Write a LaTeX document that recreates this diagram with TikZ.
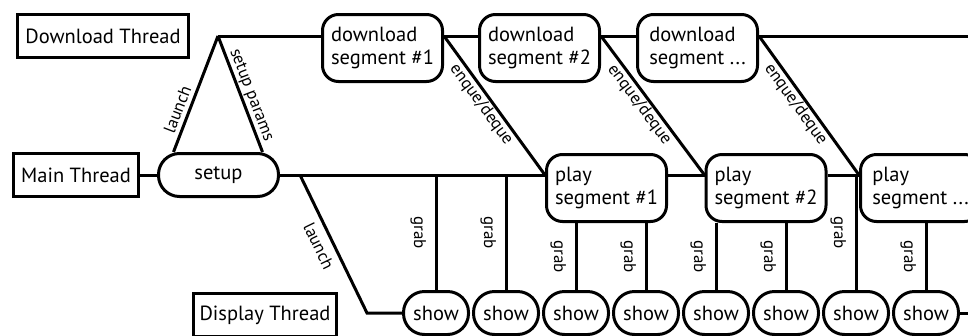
\documentclass[tikz,border=0pt]{standalone}
\usepackage{fontspec}
\setmainfont{PT Sans}
\begin{document}
\begin{tikzpicture}[x=1pt,y=-1pt,
  line width=3pt,
  every node/.style={font=\fontsize{20.5}{23.5}\selectfont},
  thread/.style={draw, rectangle, minimum height=43pt, inner sep=0pt},
  seg/.style={draw, rounded corners=16pt, minimum height=67pt, minimum width=120pt,
              align=left, inner sep=0pt},
  pill/.style={draw, rounded corners=21pt, minimum height=43pt, inner sep=0pt},
  lbl/.style={font=\fontsize{17}{20}\selectfont, sloped, inner sep=1pt},
]
\useasboundingbox (0,0) rectangle (968,335);
\clip (0,0) rectangle (968,335);

% thread titles
\node[thread, minimum width=171pt] (dlt) at (103,36) {Download Thread};
\node[thread, minimum width=125pt] (mt) at (76,175) {Main Thread};
\node[thread, minimum width=143pt] (dt) at (265,315) {Display Thread};

% main thread
\node[pill, minimum width=120pt] (setup) at (218.5,175) {setup};
\node[seg] (pl1) at (606.5,188) {play\\segment \#1};
\node[seg] (pl2) at (766,188) {play\\segment \#2};
\node[seg] (pl3) at (920.5,188) {play\\segment ...};

% download thread
\node[seg] (dl1) at (382.5,48) {download\\segment \#1};
\node[seg] (dl2) at (539.5,48) {download\\segment \#2};
\node[seg] (dl3) at (697.5,48) {download\\segment ...};

% display thread
\foreach \i/\x in {1/436,2/506,3/576,4/646,5/716,6/786,7/856,8/926}
  \node[pill, minimum width=65pt] (show\i) at (\x,313) {show};

% junction points
\coordinate (apex) at (218,36);
\coordinate (fork) at (300,175);
\coordinate (corner) at (367,313);
\coordinate (topend) at (968,36);
\coordinate (botend) at (968,313);

% main thread line
\draw (mt) -- (setup);
\draw (setup.east) -- (pl1.west |- setup.east);
\draw (pl1.east |- setup.east) -- (pl2.west |- setup.east);
\draw (pl2.east |- setup.east) -- (pl3.west |- setup.east);

% launching the download thread
\draw ([xshift=-45pt]setup.north) -- node[lbl, above=3pt, pos=0.33] {launch} (apex);
\draw (apex) -- node[lbl, above=0pt, pos=0.54] {setup params} ([xshift=44pt]setup.north);

% download thread line
\draw (apex) -- (dl1.west |- apex);
\draw (dl1.east |- apex) -- (dl2.west |- apex);
\draw (dl2.east |- apex) -- (dl3.west |- apex);
\draw (dl3.east |- apex) -- (topend);

% queue hand-over
\draw (dl1.east |- apex) -- node[lbl, below=0pt, pos=0.45] {enque/deque} (pl1.west |- setup.east);
\draw (dl2.east |- apex) -- node[lbl, below=0pt, pos=0.45] {enque/deque} (pl2.west |- setup.east);
\draw (dl3.east |- apex) -- node[lbl, below=0pt, pos=0.45] {enque/deque} (pl3.west |- setup.east);

% launching the display thread
\draw (fork) -- node[lbl, below=5.5pt, pos=0.47] {launch} (corner) -- (show1.west);
\draw (show8.east) -- (botend);

% grabbing frames
\foreach \s/\src in {1/setup.east,2/setup.east,3/pl1.south,4/pl1.south,
                     5/pl2.south,6/pl2.south,7/setup.east,8/pl3.south}
  \draw (show\s.north |- \src) -- node[lbl, below=7.5pt] {grab} (show\s.north);
\end{tikzpicture}
\end{document}
